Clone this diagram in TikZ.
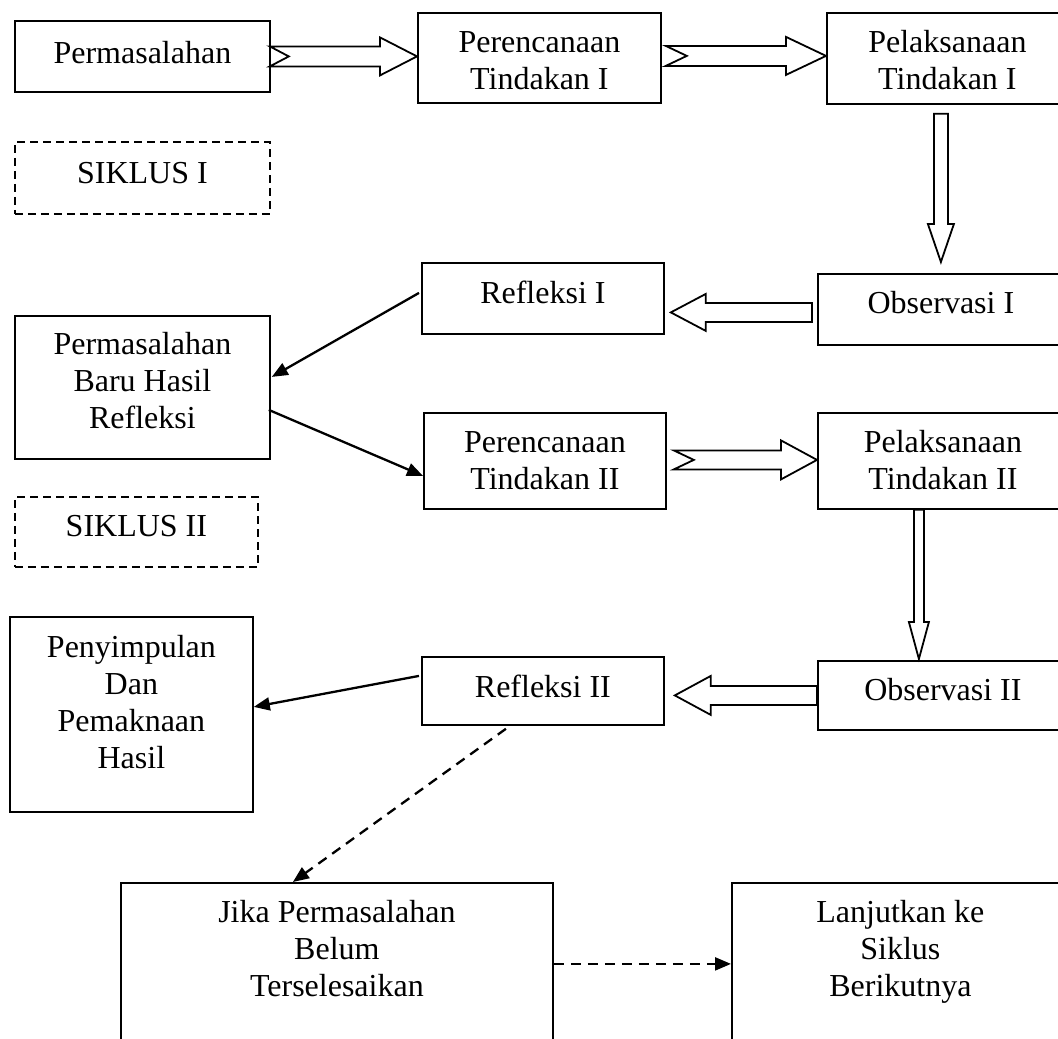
\documentclass[tikz,border=0pt]{standalone}
\usepackage{fontspec}
\setmainfont{Liberation Serif}
\usetikzlibrary{calc,arrows.meta}
\newcommand\bx[4]{\parbox[c][#2][t]{#1}{\centering\rule{0pt}{#3}#4}}
\newcommand\blockarr[6]{%
 \coordinate (bkH) at ($(#2)!#5!(#1)$);
 \coordinate (bkN) at ($(#1)!#6!(#2)$);
 \draw[blk] ($(#1)!#3!90:(#2)$) -- ($(bkH)!#3!90:(#2)$) -- ($(bkH)!#4!90:(#2)$) -- (#2) -- ($(bkH)!#4!-90:(#2)$) -- ($(bkH)!#3!-90:(#2)$) -- ($(#1)!#3!-90:(#2)$) -- (bkN) -- cycle;}
\tikzset{
 box/.style={draw, line width=1.8pt, inner sep=0pt, anchor=north west, font=\fontsize{32}{37}\selectfont},
 dbox/.style={box, dash pattern=on 8pt off 5pt},
 conn/.style={line width=2.3pt, -{Triangle[length=16pt,width=13pt]}},
 dconn/.style={conn, dash pattern=on 10pt off 7pt},
 blk/.style={draw, line width=1.8pt, fill=white, line join=miter}
}
\begin{document}
\begin{tikzpicture}[x=1pt,y=-1pt]
\useasboundingbox (0,0) rectangle (1058,1039);
\fill[white] (0,0) rectangle (1058,1039);
\clip (0,0) rectangle (1058,1039);
% boxes
\node[box] (p1) at (14,20) {\bx{255pt}{71pt}{43pt}{Permasalahan}};
\node[box] (r1) at (417,12) {\bx{243pt}{90pt}{40pt}{Perencanaan\\Tindakan I}};
\node[box] (pl1) at (826,12) {\bx{241pt}{91pt}{40pt}{Pelaksanaan\\Tindakan I}};
\node[dbox] (s1) at (14,141) {\bx{255pt}{72pt}{42pt}{SIKLUS I}};
\node[box] (ref1) at (421,262) {\bx{242pt}{71pt}{41pt}{Refleksi I}};
\node[box] (obs1) at (817,273) {\bx{246pt}{71pt}{40pt}{Observasi I}};
\node[box] (pb) at (14,315) {\bx{255pt}{143pt}{39pt}{Permasalahan\\Baru Hasil\\Refleksi}};
\node[box] (r2) at (423,412) {\bx{242pt}{96pt}{40pt}{Perencanaan\\Tindakan II}};
\node[box] (pl2) at (817,412) {\bx{250pt}{96pt}{40pt}{Pelaksanaan\\Tindakan II}};
\node[dbox] (s2) at (14,496) {\bx{243pt}{70pt}{40pt}{SIKLUS II}};
\node[box] (pen) at (9,616) {\bx{243pt}{195pt}{41pt}{Penyimpulan\\Dan\\Pemaknaan\\Hasil}};
\node[box] (ref2) at (421,656) {\bx{242pt}{68pt}{41pt}{Refleksi II}};
\node[box] (obs2) at (817,660) {\bx{250pt}{69pt}{40pt}{Observasi II}};
\node[box] (jika) at (120,882) {\bx{432pt}{200pt}{40pt}{Jika Permasalahan\\Belum\\Terselesaikan}};
\node[box] (lanj) at (731,882) {\bx{337pt}{200pt}{40pt}{Lanjutkan ke\\Siklus\\Berikutnya}};
% block arrows
\coordinate (a1s) at ($(p1.east)+(-1,0)$);
\coordinate (a1e) at (a1s -| r1.west);
\blockarr{a1s}{a1e}{10pt}{19pt}{37pt}{19pt}
\coordinate (a2s) at ($(r1.east)+(4,-2)$);
\coordinate (a2e) at (a2s -| pl1.west);
\blockarr{a2s}{a2e}{10pt}{19pt}{40pt}{21pt}
\coordinate (d1s) at ($(pl1.south)+(-6.5,9)$);
\coordinate (d1e) at ($(d1s |- obs1.north)+(0,-11)$);
\blockarr{d1s}{d1e}{7pt}{13pt}{38pt}{0pt}
\coordinate (l1s) at ($(obs1.west)+(-5,3)$);
\coordinate (l1e) at ($(l1s -| ref1.east)+(6,0)$);
\blockarr{l1s}{l1e}{9.5pt}{18.5pt}{35pt}{0pt}
\coordinate (r2s) at ($(r2.east)+(7,-1)$);
\coordinate (r2e) at (r2s -| pl2.west);
\blockarr{r2s}{r2e}{9.5pt}{19.5pt}{36pt}{20pt}
\coordinate (d2s) at ($(pl2.south)+(-24,0)$);
\coordinate (d2e) at ($(d2s |- obs2.north)+(0,-1)$);
\blockarr{d2s}{d2e}{5pt}{10pt}{37pt}{0pt}
\coordinate (l2s) at (obs2.west);
\coordinate (l2e) at ($(l2s -| ref2.east)+(10,0)$);
\blockarr{l2s}{l2e}{9.5pt}{19.5pt}{36pt}{0pt}
% connectors
\draw[conn] ($(ref1.west)+(-2,-5.5)$) -- ($(pb.east)+(1,-10.5)$);
\draw[conn] ($(pb.east)+(-2,22.5)$) -- ($(r2.west)+(0,15)$);
\draw[conn] ($(ref2.west)+(-2,-15)$) -- ($(pen.east)+(0,-7.5)$);
\draw[dconn] ($(ref2.south)+(-37,3)$) -- ($(jika.north)+(-44,0)$);
\draw[dconn] ($(jika.east)+(0,-19)$) -- ($(lanj.west)+(0,-19)$);
\end{tikzpicture}
\end{document}
